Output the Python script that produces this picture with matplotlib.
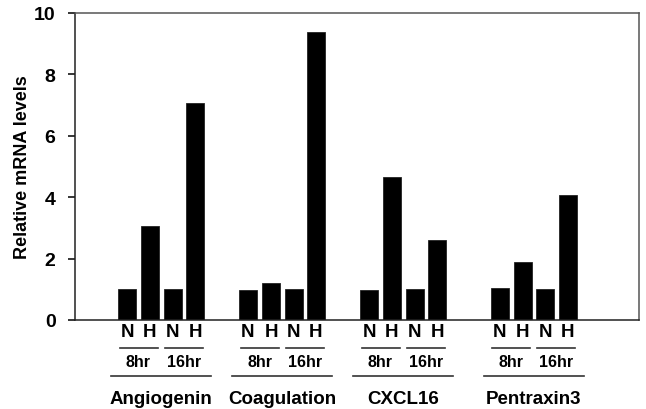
import numpy as np
from matplotlib import pyplot as plt

plt.rcParams['font.family'] = ['Liberation Sans', 'DejaVu Sans']
plt.rcParams['font.weight'] = 'bold'

genes = ["Angiogenin", "Coagulation", "CXCL16", "Pentraxin3"]
conditions = ["N", "H", "N", "H"]
times = ["8hr", "16hr"]

# N 8hr, H 8hr, N 16hr, H 16hr for each gene
angiogenin = [1.0, 3.06, 1.0, 7.08]
coagulation = [0.97, 1.21, 1.02, 9.39]
cxcl16 = [0.97, 4.67, 1.0, 2.6]
pentraxin3 = [1.04, 1.89, 1.0, 4.08]
values = [angiogenin, coagulation, cxcl16, pentraxin3]

# layout (x units roughly in pixels from the left spine)
group_start = [52, 173, 294, 424.5]
bar_offset = [0, 23, 45.5, 68]
bar_width = 18

fig = plt.figure(figsize=(6.46, 4.10), dpi=100)
ax = fig.add_axes([75 / 646, 89 / 410, 564 / 646, 307 / 410])

for g in range(len(genes)):
    xs = [group_start[g] + o for o in bar_offset]
    ax.bar(xs, values[g], width=bar_width, color="black", edgecolor="#222222", linewidth=0.6)

ax.set_xlim(0, 564)
ax.set_ylim(0, 10)
ax.set_yticks([0, 2, 4, 6, 8, 10])
ax.set_xticks([])
ax.tick_params(axis="y", direction="out", length=5, width=1.1, pad=9, labelsize=14)
ax.set_ylabel("Relative mRNA levels", fontsize=13, fontweight="bold", labelpad=2)

for side in ["top", "right"]:
    ax.spines[side].set_color("#555555")
    ax.spines[side].set_linewidth(1.1)
for side in ["left", "bottom"]:
    ax.spines[side].set_color("#222222")
    ax.spines[side].set_linewidth(1.1)

tr = ax.get_xaxis_transform()
for g in range(len(genes)):
    xs = [group_start[g] + o for o in bar_offset]
    for x, c in zip(xs, conditions):
        ax.text(x, -0.039, c, transform=tr, ha="center", va="center",
                fontsize=13.5, fontweight="bold")
    for k, t in enumerate(times):
        mid = (xs[2 * k] + xs[2 * k + 1]) / 2
        ax.plot([mid - 19, mid + 19], [-0.091, -0.091], transform=tr,
                color="#333333", linewidth=1.2, clip_on=False)
        ax.text(mid, -0.136, t, transform=tr, ha="center", va="center",
                fontsize=11.5, fontweight="bold")
    center = (xs[0] + xs[-1]) / 2
    ax.plot([center - 50, center + 50], [-0.182, -0.182], transform=tr,
            color="#333333", linewidth=1.2, clip_on=False)
    ax.text(center, -0.255, genes[g], transform=tr, ha="center", va="center",
            fontsize=13.5, fontweight="bold")

plt.savefig("out.png", dpi=100)
